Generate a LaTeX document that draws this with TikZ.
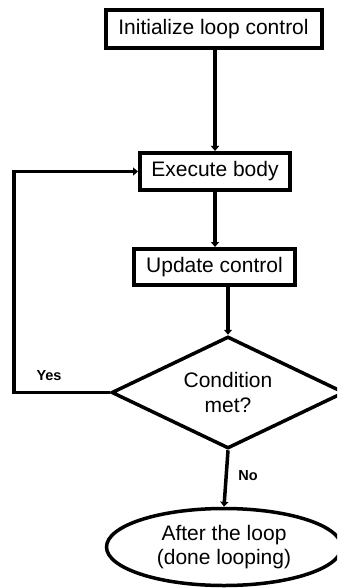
\documentclass[tikz,border=0pt]{standalone}
\usepackage{fontspec}
\setmainfont{Liberation Sans}
\usetikzlibrary{shapes.geometric,arrows.meta}
\begin{document}
\begin{tikzpicture}[x=1pt,y=-1pt,
  every node/.style={font=\fontsize{21}{24.5}\selectfont},
  procbox/.style={draw,line width=4pt,rectangle,inner sep=0pt,align=center},
  decide/.style={draw,line width=3.5pt,diamond,inner sep=0pt,align=center,minimum width=233pt,minimum height=112pt,aspect=2.05},
  term/.style={draw,line width=3.5pt,ellipse,inner sep=0pt,align=center,minimum width=235pt,minimum height=77pt},
  lbl/.style={font=\fontsize{14.5}{17}\selectfont\bfseries},
  flow/.style={line width=3.5pt,-{Triangle[length=5pt,width=8pt]}}]
\useasboundingbox (0,0) rectangle (337,588);
\clip (0,0) rectangle (337,588);
\node[procbox,minimum width=216pt,minimum height=38pt] (init) at (213.5,29) {Initialize loop control};
\node[procbox,minimum width=150pt,minimum height=37pt] (exec) at (215,171.5) {Execute body};
\node[procbox,minimum width=161pt,minimum height=36pt] (upd) at (214.5,267) {Update control};
\node[decide] (cond) at (228,392.5) {Condition\\met?};
\node[term] (after) at (224,547) {After the loop\\(done looping)};
\coordinate (updout) at (228,287);
\coordinate (bl) at (14,392.5);
\coordinate (tl) at (14,171.5);
\draw[flow] (init.south -| exec.north) -- (exec.north);
\draw[flow] (exec.south) -- (exec.south |- upd.north);
\draw[flow] (updout) -- (cond.north);
\draw[flow,line join=miter] (cond.west) -- (bl) -- (tl) -- (exec.west);
\draw[flow] (cond.south) -- (after.north);
\node[lbl] (yes) at (49,376) {Yes};
\node[lbl] (no) at (248,476) {No};
\end{tikzpicture}
\end{document}
